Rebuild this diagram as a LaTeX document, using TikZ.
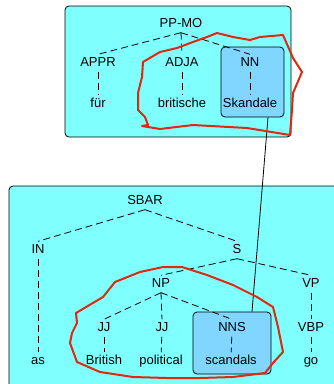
\documentclass[tikz,border=0pt]{standalone}
\usepackage{fontspec}
\setmainfont{Liberation Sans}
\definecolor{panelcyan}{HTML}{80FFFF}
\definecolor{markblue}{HTML}{80D6FF}
\definecolor{hullred}{HTML}{E0280F}
\tikzset{
    lbl/.style={inner sep=3pt, text height=9pt, text depth=2pt, font=\fontsize{13}{15}\selectfont},
    edge/.style={dash pattern=on 7pt off 4pt, line width=0.8pt},
    panel/.style={draw=black, fill=panelcyan, rounded corners=4pt, line width=0.8pt},
    markbox/.style={draw=black, fill=markblue, rounded corners=4pt, line width=0.8pt, inner sep=0pt},
    hull/.style={draw=hullred, line width=2pt, line join=round},
}
\begin{document}
\begin{tikzpicture}[x=1pt, y=-1pt]
    \useasboundingbox (0,0) rectangle (334,384);
    \clip (0,0) rectangle (334,384);
    % Riquadri di sfondo
    \draw[panel] (65,6) rectangle (291,137);
    \draw[panel] (9,186) rectangle (345,395);
    \node[markbox, minimum width=63pt, minimum height=70pt] (nnbox) at (252.5,82) {};
    \node[markbox, minimum width=78pt, minimum height=62pt] (nnsbox) at (232,343) {};
    % Albero tedesco
    \node[lbl] (ppmo) at (181,24) {PP-MO};
    \node[lbl] (appr) at (98,63) {APPR};
    \node[lbl] (adja) at (182,63) {ADJA};
    \node[lbl] (nn) at (250,63) {NN};
    \node[lbl] (fuer) at (98,104) {für};
    \node[lbl] (britische) at (182,104) {britische};
    \node[lbl] (skandale) at (250,104) {Skandale};
    \draw[edge] (ppmo.south) -- (appr.north);
    \draw[edge] (ppmo.south) -- (adja.north);
    \draw[edge] (ppmo.south) -- (nn.north);
    \draw[edge] (appr) -- (fuer);
    \draw[edge] (adja) -- (britische);
    \draw[edge] (nn) -- (skandale);
    % Albero inglese
    \node[lbl] (sbar) at (145,201) {SBAR};
    \node[lbl] (in) at (38,250) {IN};
    \node[lbl] (s) at (237,250) {S};
    \node[lbl] (np) at (161,284) {NP};
    \node[lbl] (vp) at (311,284) {VP};
    \node[lbl] (jja) at (104,328) {JJ};
    \node[lbl] (jjb) at (162,328) {JJ};
    \node[lbl] (nns) at (232,328) {NNS};
    \node[lbl] (vbp) at (311,328) {VBP};
    \node[lbl] (as) at (38,361) {as};
    \node[lbl] (british) at (104,361) {British};
    \node[lbl] (political) at (161,361) {political};
    \node[lbl] (scandals) at (231,361) {scandals};
    \node[lbl] (go) at (311,361) {go};
    \draw[edge] (sbar.south) -- (in.north);
    \draw[edge] (sbar.south) -- (s.north);
    \draw[edge] (in) -- (as);
    \draw[edge] (s.south) -- (np.north);
    \draw[edge] (s.south) -- (vp.north);
    \draw[edge] (vp) -- (vbp);
    \draw[edge] (vbp) -- (go);
    \draw[edge] (np.south) -- (jja.north);
    \draw[edge] (np.south) -- (jjb.north);
    \draw[edge] (np.south) -- (nns.north);
    \draw[edge] (jja) -- (british);
    \draw[edge] (jjb) -- (political);
    \draw[edge] (nns) -- (scandals);
    % Allineamento
    \draw[line width=0.8pt] ([xshift=15.5pt]nnbox.south) -- ([xshift=20pt]nnsbox.north);
    % Contorni a mano libera
    \draw[hull] (142,126) -- (160,129) -- (193,125) -- (247,128) -- (290,135)
        -- (292,110) -- (293,93) -- (302,72) -- (293,58) -- (283,35) -- (260,37)
        -- (250,40) -- (233,37) -- (217,33) -- (207,37) -- (193,42) -- (177,48)
        -- (160,52) -- (143,62) -- (142,77) -- (138,93) -- (138,110) -- (145,117)
        -- (148,125) -- cycle;
    \draw[hull] (76,313) -- (103,297) -- (115,282) -- (140,272) -- (163,267)
        -- (182,267) -- (207,275) -- (233,285) -- (257,297) -- (273,307)
        -- (278,327) -- (283,352) -- (273,363) -- (265,373) -- (233,377)
        -- (200,378) -- (167,378) -- (133,377) -- (100,372) -- (77,362)
        -- (70,343) -- (72,333) -- (77,323) -- cycle;
\end{tikzpicture}
\end{document}
